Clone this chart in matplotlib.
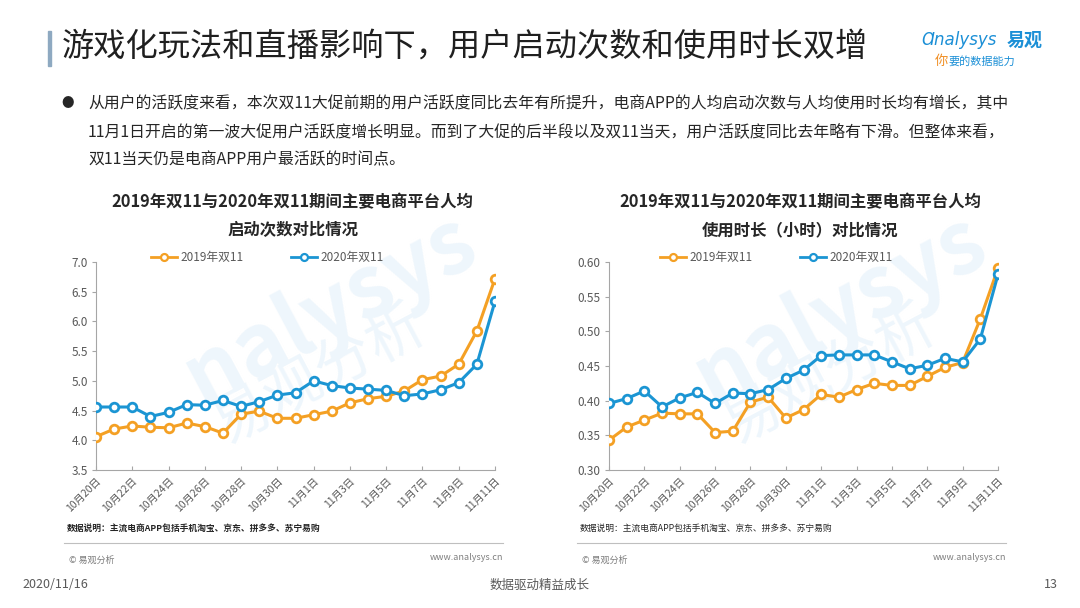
import matplotlib
matplotlib.use("Agg")
import matplotlib.pyplot as plt
from matplotlib.lines import Line2D

plt.rcParams['font.family'] = ['Noto Sans CJK SC', 'DejaVu Sans']

# 数据
days = ['10月20日', '10月21日', '10月22日', '10月23日', '10月24日', '10月25日',
        '10月26日', '10月27日', '10月28日', '10月29日', '10月30日', '10月31日',
        '11月1日', '11月2日', '11月3日', '11月4日', '11月5日', '11月6日',
        '11月7日', '11月8日', '11月9日', '11月10日', '11月11日']

launch_2019 = [4.06, 4.19, 4.24, 4.22, 4.21, 4.29, 4.23, 4.12, 4.44, 4.49, 4.37, 4.37,
               4.43, 4.49, 4.63, 4.70, 4.74, 4.83, 5.02, 5.08, 5.28, 5.84, 6.72]
launch_2020 = [4.56, 4.56, 4.56, 4.40, 4.47, 4.60, 4.59, 4.67, 4.57, 4.65, 4.76, 4.80,
               5.00, 4.92, 4.88, 4.86, 4.84, 4.75, 4.78, 4.85, 4.97, 5.28, 6.34]

hours_2019 = [0.343, 0.362, 0.372, 0.382, 0.381, 0.381, 0.354, 0.356, 0.398, 0.405, 0.375, 0.387,
              0.409, 0.405, 0.416, 0.425, 0.422, 0.422, 0.435, 0.448, 0.455, 0.518, 0.591]
hours_2020 = [0.396, 0.403, 0.414, 0.391, 0.404, 0.412, 0.396, 0.411, 0.410, 0.416, 0.432, 0.444,
              0.465, 0.466, 0.466, 0.466, 0.456, 0.446, 0.451, 0.461, 0.456, 0.489, 0.582]

series_names = ['2019年双11', '2020年双11']
ORANGE = '#F4A024'
BLUE = '#1B95D3'
GRAY = '#595959'

fig = plt.figure(figsize=(10.8, 6.08), dpi=100)
W, H = 1080, 608


def fx(px):
    return px / W


def fy(py):
    return 1 - py / H


# 水印（放在最底层）
for cx in (310, 820):
    fig.text(fx(cx + 20), fy(310), 'nalysys', ha='center', va='center', fontsize=62,
             color='#EEF6FC', rotation=28, weight='bold', zorder=-5)
    fig.text(fx(cx + 10), fy(375), '易观分析', ha='center', va='center', fontsize=42,
             color='#EEF6FC', rotation=28, zorder=-5)


def draw_chart(left, right, values19, values20, ylim, yticks, yfmt, title1, title2, note_bold):
    ax = fig.add_axes([fx(left), fy(470), fx(right - left), (470 - 262) / H])
    x = list(range(len(days)))
    ax.plot(x, values19, color=ORANGE, lw=2.2, marker='o', ms=6.2,
            mfc='white', mec=ORANGE, mew=2, label=series_names[0], zorder=3)
    ax.plot(x, values20, color=BLUE, lw=2.2, marker='o', ms=6.2,
            mfc='white', mec=BLUE, mew=2, label=series_names[1], zorder=3)
    ax.set_xlim(0, len(days) - 1)
    ax.set_ylim(*ylim)
    ax.set_yticks(yticks)
    ax.set_yticklabels([yfmt.format(v) for v in yticks], fontsize=8.5, color=GRAY)
    ax.set_xticks(x[::2])
    ax.set_xticklabels(days[::2], rotation=45, ha='right', rotation_mode='anchor',
                       fontsize=7.5, color=GRAY)
    ax.tick_params(axis='x', length=3, direction='in', color='#A6A6A6', pad=4)
    ax.tick_params(axis='y', length=3, color='#A6A6A6', pad=3)
    for s in ['top', 'right']:
        ax.spines[s].set_visible(False)
    for s in ['left', 'bottom']:
        ax.spines[s].set_color('#A6A6A6')
        ax.spines[s].set_linewidth(0.8)
    ax.patch.set_alpha(0)

    # 图例
    handles = [Line2D([0], [0], color=c, lw=2, marker='o', ms=5, mfc='white', mec=c, mew=1.6)
               for c in (ORANGE, BLUE)]
    ax.legend(handles, series_names, ncol=2, frameon=False, fontsize=8.5,
              loc='lower center', bbox_to_anchor=(0.43, 0.94), columnspacing=4,
              handlelength=2.2, handletextpad=0.3, labelcolor=GRAY)

    cx = (left + right) / 2 - 3
    fig.text(fx(cx), fy(202), title1, ha='center', va='center', fontsize=11.8,
             weight='bold', color='#262626')
    fig.text(fx(cx), fy(230), title2, ha='center', va='center', fontsize=11.8,
             weight='bold', color='#262626')

    fig.text(fx(left - 29), fy(528), '数据说明：主流电商APP包括手机淘宝、京东、拼多多、苏宁易购',
             ha='left', va='center', fontsize=6.3, color='#262626',
             weight='bold' if note_bold else 'normal')
    fig.add_artist(Line2D([fx(left - 32), fx(right + 8)], [fy(543), fy(543)],
                          color='#BFBFBF', lw=0.8))
    fig.text(fx(left - 27), fy(560), '© 易观分析', ha='left', va='center',
             fontsize=6.5, color='#7F7F7F')
    fig.text(fx(right + 8), fy(558), 'www.analysys.cn', ha='right', va='center',
             fontsize=6.5, color='#7F7F7F')
    return ax


draw_chart(96, 495, launch_2019, launch_2020, (3.5, 7.0),
           [3.5, 4.0, 4.5, 5.0, 5.5, 6.0, 6.5, 7.0], '{:.1f}',
           '2019年双11与2020年双11期间主要电商平台人均', '启动次数对比情况', True)
draw_chart(609, 998, hours_2019, hours_2020, (0.30, 0.60),
           [0.30, 0.35, 0.40, 0.45, 0.50, 0.55, 0.60], '{:.2f}',
           '2019年双11与2020年双11期间主要电商平台人均', '使用时长（小时）对比情况', False)

# 标题
fig.add_artist(plt.Rectangle((fx(48), fy(66)), fx(3), 35 / H, color='#8EA9C1'))
fig.text(fx(62), fy(48), '游戏化玩法和直播影响下，用户启动次数和使用时长双增',
         ha='left', va='center', fontsize=23.2, color='#1F1F1F', weight='medium')

# 标志
fig.text(fx(922), fy(40), 'Ɑnalysys', ha='left', va='center', fontsize=12,
         color='#1B8FD6', style='italic', family=['DejaVu Sans'])
fig.text(fx(1007), fy(40), '易观', ha='left', va='center', fontsize=13,
         color='#1B8FD6', weight='bold')
fig.text(fx(935), fy(61), '你', ha='left', va='center', fontsize=9.5,
         color='#F08C1E', style='italic')
fig.text(fx(948), fy(61), '要的数据能力', ha='left', va='center', fontsize=8,
         color='#1B8FD6', style='italic')

# 正文
lines = ['从用户的活跃度来看，本次双11大促前期的用户活跃度同比去年有所提升，电商APP的人均启动次数与人均使用时长均有增长，其中',
         '11月1日开启的第一波大促用户活跃度增长明显。而到了大促的后半段以及双11当天，用户活跃度同比去年略有下滑。但整体来看，',
         '双11当天仍是电商APP用户最活跃的时间点。']
fig.text(fx(68), fy(104), '●', ha='center', va='center', fontsize=9, color='#262626')
for i, line in enumerate(lines):
    fig.text(fx(88), fy(104 + 28 * i), line, ha='left', va='center', fontsize=11.4,
             color='#262626')

# 页脚
fig.text(fx(22), fy(585), '2020/11/16', ha='left', va='center', fontsize=9, color='#595959')
fig.text(fx(540), fy(585), '数据驱动精益成长', ha='center', va='center', fontsize=9, color='#595959')
fig.text(fx(1058), fy(585), '13', ha='right', va='center', fontsize=9, color='#595959')

fig.savefig('out.png', dpi=100)
